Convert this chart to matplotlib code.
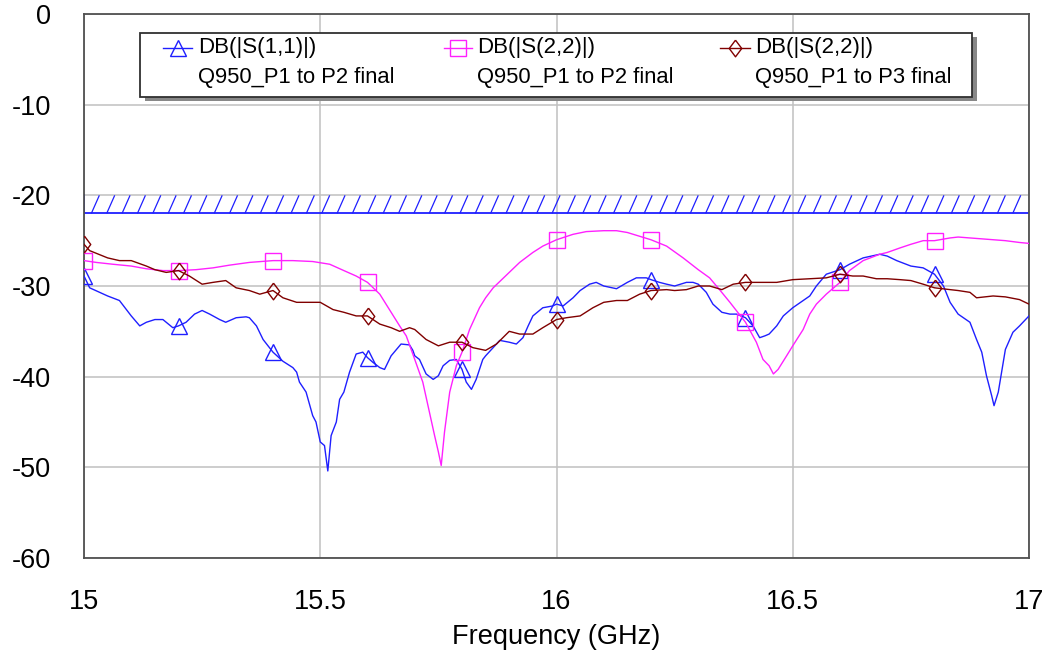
import numpy as np
import matplotlib
matplotlib.use("Agg")
import matplotlib.pyplot as plt
from matplotlib.patches import Rectangle
from matplotlib.lines import Line2D
from matplotlib.collections import LineCollection

# datos (GHz, dB)
f_s11 = [15.000, 15.012, 15.050, 15.075, 15.100, 15.118, 15.132, 15.150, 15.167, 15.188,
         15.200, 15.216, 15.234, 15.250, 15.266, 15.287, 15.300, 15.322, 15.343, 15.350,
         15.365, 15.379, 15.400, 15.421, 15.442, 15.450, 15.456, 15.470, 15.484, 15.491,
         15.500, 15.509, 15.516, 15.523, 15.534, 15.541, 15.550, 15.562, 15.576, 15.590,
         15.600, 15.611, 15.626, 15.636, 15.650, 15.671, 15.689, 15.696, 15.700, 15.710,
         15.724, 15.739, 15.750, 15.760, 15.774, 15.788, 15.800, 15.809, 15.820, 15.830,
         15.844, 15.850, 15.866, 15.880, 15.900, 15.915, 15.929, 15.940, 15.950, 15.971,
         15.992, 16.000, 16.014, 16.035, 16.050, 16.070, 16.084, 16.100, 16.127, 16.150,
         16.169, 16.190, 16.200, 16.218, 16.233, 16.250, 16.275, 16.289, 16.300, 16.317,
         16.331, 16.350, 16.367, 16.381, 16.400, 16.416, 16.430, 16.441, 16.450, 16.466,
         16.480, 16.500, 16.522, 16.536, 16.550, 16.571, 16.600, 16.620, 16.649, 16.684,
         16.700, 16.720, 16.750, 16.776, 16.800, 16.819, 16.833, 16.850, 16.875, 16.889,
         16.900, 16.910, 16.921, 16.926, 16.935, 16.950, 16.966, 16.980, 17.000]
db_s11 = [-28.9, -30.2, -31.1, -31.6, -33.3, -34.4, -34.0, -33.7, -33.7, -34.6,
          -34.4, -34.0, -33.1, -32.7, -33.1, -33.7, -34.0, -33.5, -33.4, -33.5,
          -34.4, -35.9, -37.3, -38.3, -39.0, -39.5, -40.6, -41.7, -44.3, -45.0,
          -47.2, -47.6, -50.4, -46.5, -45.0, -42.5, -41.7, -39.5, -37.5, -37.3,
          -37.9, -38.4, -39.0, -39.2, -37.7, -36.4, -36.5, -37.1, -37.7, -38.1,
          -39.7, -40.3, -39.9, -38.8, -38.2, -38.1, -39.2, -40.6, -41.4, -40.3,
          -38.1, -37.7, -36.8, -36.0, -36.2, -36.4, -35.7, -34.4, -33.3, -32.4,
          -32.2, -32.0, -32.2, -31.3, -30.5, -29.8, -29.6, -30.0, -30.3, -29.6,
          -29.1, -29.1, -29.3, -29.6, -29.8, -30.0, -29.6, -29.6, -29.8, -30.7,
          -32.0, -32.9, -33.1, -33.1, -33.5, -34.4, -35.7, -35.5, -35.3, -34.4,
          -33.3, -32.4, -31.6, -31.1, -30.0, -28.7, -28.2, -27.6, -26.9, -26.5,
          -26.7, -27.2, -27.8, -28.0, -28.7, -30.0, -31.8, -33.1, -34.0, -35.9,
          -37.3, -39.9, -42.1, -43.2, -41.7, -37.0, -35.1, -34.4, -33.3]

f_s22 = [15.000, 15.026, 15.061, 15.100, 15.132, 15.167, 15.200, 15.237, 15.273, 15.308,
         15.350, 15.400, 15.442, 15.484, 15.520, 15.550, 15.576, 15.600, 15.626, 15.650,
         15.668, 15.682, 15.700, 15.717, 15.731, 15.742, 15.750, 15.756, 15.763, 15.774,
         15.788, 15.800, 15.816, 15.837, 15.850, 15.866, 15.900, 15.922, 15.950, 15.971,
         16.000, 16.035, 16.063, 16.100, 16.127, 16.150, 16.200, 16.233, 16.268, 16.300,
         16.324, 16.345, 16.367, 16.400, 16.423, 16.437, 16.450, 16.459, 16.469, 16.487,
         16.500, 16.522, 16.536, 16.550, 16.571, 16.600, 16.620, 16.649, 16.684, 16.700,
         16.727, 16.750, 16.776, 16.800, 16.833, 16.850, 16.875, 16.900, 16.950, 16.980,
         17.000]
db_s22 = [-27.2, -27.4, -27.6, -27.8, -28.1, -28.3, -28.3, -28.2, -28.0, -27.7,
          -27.4, -27.2, -27.2, -27.3, -27.6, -28.3, -28.9, -29.6, -30.9, -32.9,
          -34.4, -35.5, -38.1, -40.6, -43.9, -46.5, -48.3, -49.8, -46.1, -41.7,
          -38.8, -37.3, -34.8, -32.4, -31.3, -30.2, -28.5, -27.4, -26.3, -25.6,
          -24.9, -24.3, -24.0, -23.9, -23.9, -24.1, -24.9, -25.6, -26.9, -28.2,
          -29.1, -30.4, -31.8, -34.0, -36.2, -38.1, -38.8, -39.7, -39.2, -37.7,
          -36.6, -34.8, -33.1, -32.0, -30.9, -29.6, -28.3, -27.2, -26.5, -26.3,
          -25.8, -25.4, -25.0, -25.0, -24.7, -24.6, -24.7, -24.8, -25.0, -25.2,
          -25.3]

f_p3 = [15.000, 15.012, 15.050, 15.075, 15.100, 15.132, 15.150, 15.174, 15.200, 15.223,
        15.250, 15.273, 15.300, 15.322, 15.350, 15.372, 15.400, 15.421, 15.450, 15.477,
        15.500, 15.527, 15.550, 15.576, 15.600, 15.626, 15.650, 15.668, 15.689, 15.700,
        15.724, 15.750, 15.774, 15.800, 15.823, 15.850, 15.873, 15.900, 15.922, 15.950,
        15.971, 16.000, 16.021, 16.050, 16.077, 16.100, 16.127, 16.150, 16.176, 16.200,
        16.233, 16.250, 16.275, 16.300, 16.324, 16.350, 16.374, 16.400, 16.430, 16.466,
        16.500, 16.536, 16.571, 16.600, 16.627, 16.649, 16.677, 16.700, 16.727, 16.750,
        16.776, 16.800, 16.833, 16.850, 16.875, 16.889, 16.924, 16.950, 16.980, 17.000]
db_p3 = [-25.4, -26.1, -26.9, -27.2, -27.2, -27.8, -28.2, -28.5, -28.3, -28.9,
         -29.8, -29.6, -29.4, -30.2, -30.5, -30.9, -30.5, -31.3, -31.8, -31.8,
         -31.8, -32.6, -32.9, -33.3, -33.3, -34.2, -34.6, -35.0, -34.6, -34.8,
         -35.9, -36.6, -36.2, -36.2, -36.8, -37.1, -36.4, -35.0, -35.3, -35.3,
         -34.6, -33.7, -33.5, -33.3, -32.4, -31.8, -31.6, -31.6, -30.9, -30.5,
         -30.4, -30.5, -30.4, -30.0, -30.0, -30.4, -29.8, -29.6, -29.6, -29.6,
         -29.3, -29.2, -29.1, -28.7, -28.9, -28.9, -29.2, -29.2, -29.3, -29.4,
         -29.8, -30.2, -30.4, -30.5, -30.7, -31.3, -31.1, -31.2, -31.5, -32.0]

marker_f = [15.0, 15.2, 15.4, 15.6, 15.8, 16.0, 16.2, 16.4, 16.6, 16.8]
spec_lo, spec_hi = -22, -20

series_labels = [("DB(|S(1,1)|)", "Q950_P1 to P2 final"),
                 ("DB(|S(2,2)|)", "Q950_P1 to P2 final"),
                 ("DB(|S(2,2)|)", "Q950_P1 to P3 final")]

if __name__ == "__main__":
    plt.rcParams['font.family'] = ['Liberation Sans', 'DejaVu Sans']
    plt.rcParams['axes.unicode_minus'] = False

    azul, rosa, cafe = '#1f1fff', '#ff20ff', '#800000'
    diamante = [(0, 1), (0.75, 0), (0, -1), (-0.75, 0), (0, 1)]
    estilos = [(f_s11, db_s11, azul, '^', 12),
               (f_s22, db_s22, rosa, 's', 12),
               (f_p3, db_p3, cafe, diamante, 12)]

    fig = plt.figure(figsize=(10.5, 6.57), dpi=100)
    ax = fig.add_axes([84 / 1050, 1 - 558 / 657, 945 / 1050, 544 / 657])

    # banda de especificacion con rayado inclinado
    paso, inclin = 0.0325, 0.017
    x0s = np.arange(15.0 - inclin, 17.0, paso)
    rayas = [[(x, spec_lo), (x + inclin, spec_hi)] for x in x0s]
    ax.add_collection(LineCollection(rayas, colors=azul, linewidths=0.9, zorder=2))
    ax.plot([15, 17], [spec_lo, spec_lo], color=azul, lw=1.3, zorder=2)
    ax.plot([15, 15], [spec_lo, spec_hi], color=azul, lw=1.3, zorder=2)

    for f, db, c, m, ms in estilos:
        idx = [int(np.argmin(np.abs(np.array(f) - mf))) for mf in marker_f]
        ax.plot(f, db, color=c, lw=1.0, marker=m, ms=ms, mfc='none', mec=c,
                mew=1.0, markevery=idx, zorder=3)

    ax.set_xlim(15, 17)
    ax.set_ylim(-60, 0)
    ax.set_xticks([15, 15.5, 16, 16.5, 17])
    ax.set_xticklabels(["15", "15.5", "16", "16.5", "17"])
    ax.set_yticks(range(-60, 1, 10))
    ax.grid(True, color='#c0c0c0', lw=1.1)
    ax.set_axisbelow(True)
    ax.tick_params(length=0, labelsize=19.5)
    ax.tick_params(axis='y', pad=24)
    ax.tick_params(axis='x', pad=22)
    for s in ax.spines.values():
        s.set_color('#505050')
        s.set_linewidth(1.3)
    ax.set_xlabel("Frequency (GHz)", fontsize=19.5, labelpad=7)

    # leyenda dibujada a mano
    def fx(px):
        return px / 1050

    def fy(py):
        return 1 - py / 657

    fig.patches.append(Rectangle((fx(145), fy(101)), fx(832), 64 / 657,
                                 transform=fig.transFigure, facecolor='#888888',
                                 edgecolor='none', zorder=5))
    fig.patches.append(Rectangle((fx(140), fy(97)), fx(832), 64 / 657,
                                 transform=fig.transFigure, facecolor='white',
                                 edgecolor='#303030', lw=1.3, zorder=6))
    cols = [(163, 192, 198), (444, 472, 477), (720, 750, 755)]
    for (h0, h1, tx), (f, db, c, m, ms), (l1, l2) in zip(cols, estilos, series_labels):
        fig.lines.append(Line2D([fx(h0), fx(h1)], [fy(48), fy(48)], transform=fig.transFigure,
                                color=c, lw=1.0, zorder=7))
        fig.lines.append(Line2D([fx((h0 + h1) / 2)], [fy(48)], transform=fig.transFigure,
                                marker=m, ms=ms, mfc='none', mec=c, mew=1.0, ls='none',
                                zorder=7))
        fig.text(fx(tx), fy(48), l1, fontsize=16, va='center', ha='left', zorder=8)
        fig.text(fx(tx), fy(77), l2, fontsize=15.8, va='center', ha='left', zorder=8)

    plt.savefig("out.png", dpi=100)
